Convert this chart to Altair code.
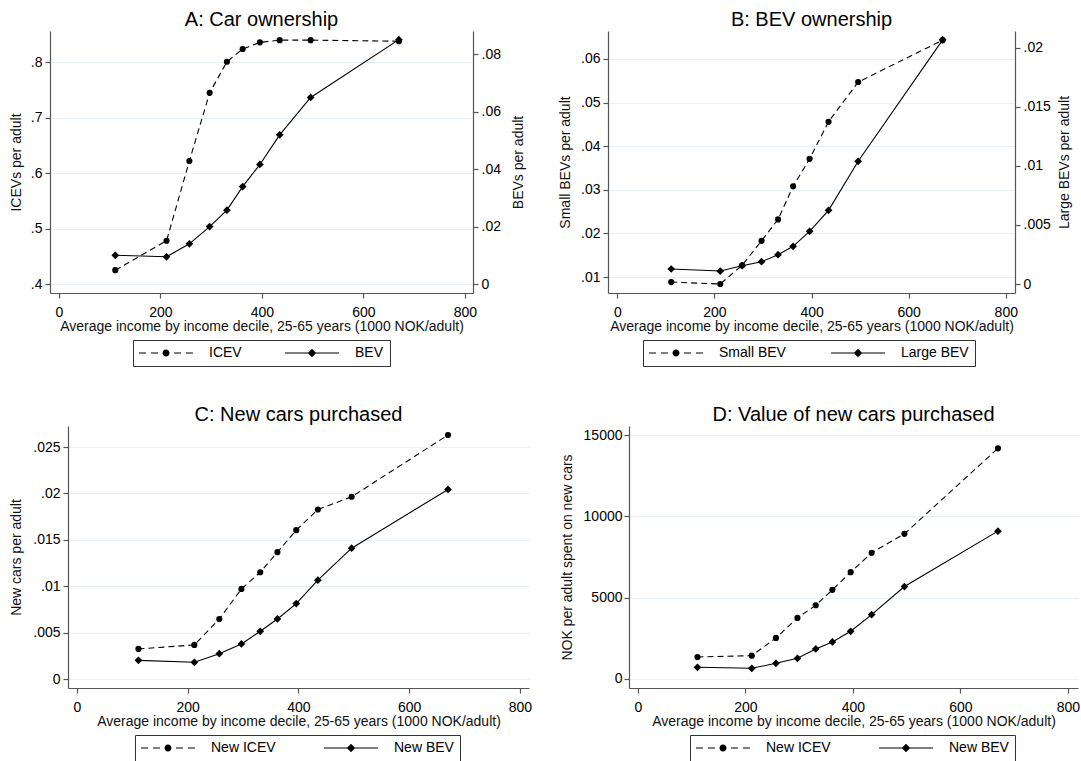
import altair as alt
import pandas as pd

# ---------------- data ----------------
income = [111, 212, 257, 297, 331, 362, 396, 435, 496, 670]

a_icev = [0.425, 0.478, 0.622, 0.745, 0.801, 0.824, 0.836, 0.840, 0.840, 0.838]
a_bev = [0.0100, 0.0095, 0.0140, 0.0200, 0.0257, 0.0339, 0.0416, 0.0519, 0.0649, 0.0850]

b_small = [0.00885, 0.0084, 0.0127, 0.0183, 0.0232, 0.0308, 0.0371, 0.0456, 0.0547, 0.0643]
b_large = [0.00127, 0.0011, 0.00155, 0.00189, 0.00248, 0.00319, 0.00446, 0.00623, 0.01038, 0.02065]

c_icev = [0.00324, 0.00367, 0.00647, 0.00971, 0.01151, 0.01367, 0.01604, 0.01827, 0.01964, 0.0263]
c_bev = [0.00201, 0.0018, 0.00273, 0.00378, 0.00514, 0.00647, 0.00813, 0.01065, 0.0141, 0.02043]

d_icev = [1354, 1436, 2524, 3755, 4535, 5479, 6566, 7756, 8926, 14179]
d_bev = [718, 657, 964, 1272, 1847, 2278, 2934, 3960, 5684, 9090]

x_ticks = [0, 200, 400, 600, 800]
x_title = "Average income by income decile, 25-65 years (1000 NOK/adult)"

# ---------------- styling ----------------
FONT = "Liberation Sans"
GRID = "#e9f0f5"
AXC = "#555555"

# legend symbols: dashed line with circle / solid line with diamond
ICEV_PATH = ("M-1,-0.08H0V0.08H-1Z M0.714,-0.08H1.714V0.08H0.714Z "
             "M4,-0.08H5V0.08H4Z M5.714,-0.08H6.714V0.08H5.714Z "
             "M2.357,0A0.5,0.5 0 1,0 3.357,0A0.5,0.5 0 1,0 2.357,0Z")
BEV_PATH = ("M-1,-0.08H6.714V0.08H-1Z "
            "M2.857,-0.6L3.457,0L2.857,0.6L2.257,0Z")

LABEL_EXPR = ("datum.value > 0 && datum.value < 1 ? "
              "substring(format(datum.value, '~g'), 1) : format(datum.value, '~g')")


def xenc(dom):
    return alt.X("income:Q",
                 scale=alt.Scale(domain=dom, nice=False, zero=False),
                 axis=alt.Axis(values=x_ticks, title=x_title, grid=False,
                               labelPadding=7, titlePadding=0, format="d"))


def series(df, field, xdom, yscale, yaxis, dashed, shape, msize):
    line_kw = dict(color="black", strokeWidth=1.1)
    if dashed:
        line_kw["strokeDash"] = [6, 4]
    y = alt.Y(f"{field}:Q", scale=yscale, axis=yaxis)
    line = alt.Chart(df).mark_line(**line_kw).encode(x=xenc(xdom), y=y)
    pts = alt.Chart(df).mark_point(shape=shape, filled=True, color="black",
                                   size=msize, opacity=1).encode(x=xenc(xdom), y=y)
    return [line, pts]


def legend_layer(names, lx, ly, colpad):
    leg = pd.DataFrame({"series": names})
    return alt.Chart(leg).transform_filter("datum.series == 'none'").mark_point(
        filled=True, color="black", size=196, opacity=1
    ).encode(
        shape=alt.Shape("series:N",
                        scale=alt.Scale(domain=names, range=[ICEV_PATH, BEV_PATH]),
                        legend=alt.Legend(orient="none", legendX=lx, legendY=ly,
                                          direction="horizontal", title=None,
                                          symbolSize=196, labelOffset=56,
                                          columnPadding=colpad, padding=6,
                                          strokeColor="#333333", fillColor="white",
                                          symbolFillColor="black", symbolStrokeWidth=0,
                                          symbolOpacity=1, labelFontSize=14,
                                          labelFont=FONT, labelColor="black"))
    )


def left_axis(vals, title, tpad, lpad=3):
    return alt.Axis(values=vals, title=title, grid=True, orient="left",
                    labelExpr=LABEL_EXPR, labelPadding=lpad, titlePadding=tpad)


def right_axis(vals, title, tpad, lpad=3):
    return alt.Axis(values=vals, title=title, grid=False, orient="right",
                    labelExpr=LABEL_EXPR, labelPadding=lpad, titlePadding=tpad,
                    titleAngle=270, titleBaseline="top")


def ttl(text):
    return alt.TitleParams(text=text, fontSize=20, font=FONT, fontWeight="normal",
                           anchor="middle", frame="group", offset=1, color="black")


def spacer():
    sp = pd.DataFrame({"v": [0]})
    return alt.Chart(sp).mark_point(size=0, opacity=0).encode(
        x=alt.X("v:Q", axis=None), y=alt.Y("v:Q", axis=None)
    ).properties(width=1, height=1)


# ---------------- panel A ----------------
XA = [-17.7, 816]
dfa = pd.DataFrame({"income": income, "icev": a_icev, "bev": a_bev})
a_left = alt.layer(*series(dfa, "icev", XA, alt.Scale(domain=[0.3838, 0.8565], nice=False, zero=False),
                           left_axis([0.4, 0.5, 0.6, 0.7, 0.8], "ICEVs per adult", 7), True, "circle", 38),
                   legend_layer(["ICEV", "BEV"], 83, 309, 43))
a_right = alt.layer(*series(dfa, "bev", XA, alt.Scale(domain=[-0.0031, 0.088], nice=False, zero=False),
                            right_axis([0, 0.02, 0.04, 0.06, 0.08], "BEVs per adult", 11), False, "diamond", 60))
panel_a = alt.layer(a_left, a_right).resolve_scale(y="independent").properties(
    width=423, height=262, title=ttl("A: Car ownership"))

# ---------------- panel B ----------------
XB = [-19.2, 819]
dfb = pd.DataFrame({"income": income, "small": b_small, "large": b_large})
b_left = alt.layer(*series(dfb, "small", XB, alt.Scale(domain=[0.00634, 0.0664], nice=False, zero=False),
                           left_axis([0.01, 0.02, 0.03, 0.04, 0.05, 0.06], "Small BEVs per adult", 8), True, "circle", 38),
                   legend_layer(["Small BEV", "Large BEV"], 35, 309, 45))
b_right = alt.layer(*series(dfb, "large", XB, alt.Scale(domain=[-0.00076, 0.0214], nice=False, zero=False),
                            right_axis([0, 0.005, 0.01, 0.015, 0.02], "Large BEVs per adult", 7), False, "diamond", 60))
panel_b = alt.layer(b_left, b_right).resolve_scale(y="independent").properties(
    width=407, height=262, title=ttl("B: BEV ownership"))

# ---------------- panel C ----------------
XC = [-16.2, 816.3]
dfc = pd.DataFrame({"income": income, "icev": c_icev, "bev": c_bev})
c_scale = alt.Scale(domain=[-0.00097, 0.02727], nice=False, zero=False)
c_axis = left_axis([0, 0.005, 0.01, 0.015, 0.02, 0.025], "New cars per adult", 9)
panel_c = alt.layer(*series(dfc, "icev", XC, c_scale, c_axis, True, "circle", 38),
                    *series(dfc, "bev", XC, c_scale, c_axis, False, "diamond", 60),
                    legend_layer(["New ICEV", "New BEV"], 67, 309, 48)).properties(
    width=461, height=262, title=ttl("C: New cars purchased"))

# ---------------- panel D ----------------
XD = [-16.4, 818.9]
dfd = pd.DataFrame({"income": income, "icev": d_icev, "bev": d_bev})
d_scale = alt.Scale(domain=[-554, 15554], nice=False, zero=False)
d_axis = left_axis([0, 5000, 10000, 15000], "NOK per adult spent on new cars", 9, 2)
panel_d = alt.layer(*series(dfd, "icev", XD, d_scale, d_axis, True, "circle", 38),
                    *series(dfd, "bev", XD, d_scale, d_axis, False, "diamond", 60),
                    legend_layer(["New ICEV", "New BEV"], 61, 309, 48)).properties(
    width=449, height=262, title=ttl("D: Value of new cars purchased"))


def indep(ch):
    return ch.resolve_scale(shape="independent").resolve_legend(shape="independent")


pair1 = indep(alt.hconcat(panel_a, panel_b, spacing=32))
pair2 = indep(alt.hconcat(panel_c, panel_d, spacing=28))
row1 = indep(alt.hconcat(spacer(), pair1, spacing=0))
row2 = indep(alt.hconcat(spacer(), pair2, spacing=0))

chart = indep(alt.vconcat(row1, row2, spacing=38)).properties(
    padding={"left": 8, "top": 10, "right": 0, "bottom": 0}
).configure_view(stroke=None).configure_axis(
    labelFont=FONT, titleFont=FONT, labelFontSize=14, titleFontSize=14,
    titleFontWeight="normal", labelColor="black", titleColor="#111111",
    domainColor=AXC, tickColor=AXC, tickSize=5, gridColor=GRID, gridWidth=1,
    domainWidth=1.2, tickWidth=1.2
).configure_legend(labelFont=FONT, labelFontSize=14)

chart.save("out.html", embed_options={"renderer": "svg", "actions": False})
